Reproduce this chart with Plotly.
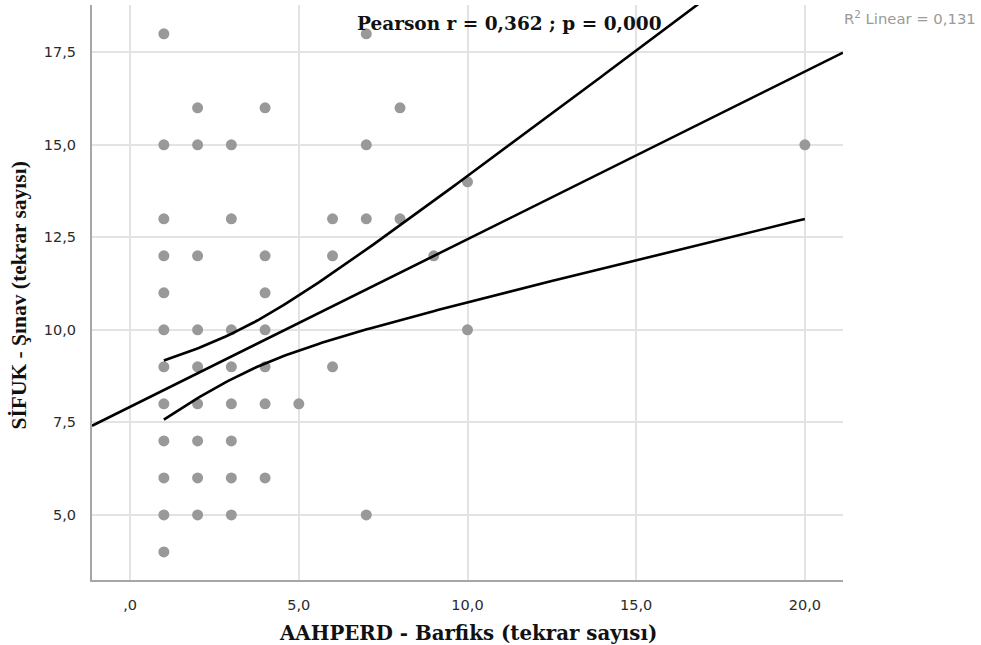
import numpy as np
import plotly.graph_objects as go

# ---- data ----
barfiks = [1]*12 + [2]*9 + [3]*8 + [4]*7 + [5] + [6]*3 + [7]*4 + [8]*2 + [9] + [10]*2 + [20]
sinav = ([18, 15, 13, 12, 11, 10, 9, 8, 7, 6, 5, 4] +
         [16, 15, 12, 10, 9, 8, 7, 6, 5] +
         [15, 13, 10, 9, 8, 7, 6, 5] +
         [16, 12, 11, 10, 9, 8, 6] +
         [8] +
         [13, 12, 9] +
         [18, 15, 13, 5] +
         [16, 13] +
         [12] +
         [14, 10] +
         [15])

# regression fit and confidence band parameters
fit_intercept = 7.92
fit_slope = 0.453
band_a = 0.374
band_b = 0.0549
band_xmean = 3.2
band_xmin, band_xmax = 1, 20

x_ticks = [0, 5, 10, 15, 20]
x_ticklabels = [",0", "5,0", "10,0", "15,0", "20,0"]
y_ticks = [5, 7.5, 10, 12.5, 15, 17.5]
y_ticklabels = ["5,0", "7,5", "10,0", "12,5", "15,0", "17,5"]

x_range = [-1.13, 21.13]
y_range = [3.24, 18.78]

fig = go.Figure()

fig.add_trace(go.Scatter(
    x=barfiks, y=sinav, mode="markers",
    marker=dict(color="#999999", size=11, line=dict(width=0)),
    showlegend=False, hoverinfo="x+y"))

# fit line across full axis
xf = np.array(x_range)
fig.add_trace(go.Scatter(
    x=xf, y=fit_intercept + fit_slope * xf, mode="lines",
    line=dict(color="black", width=2.6), showlegend=False))

# confidence band
xb = np.linspace(band_xmin, band_xmax, 200)
fitb = fit_intercept + fit_slope * xb
hw = np.sqrt(band_a + band_b * (xb - band_xmean) ** 2)
for yb in (fitb + hw, fitb - hw):
    fig.add_trace(go.Scatter(
        x=xb, y=yb, mode="lines",
        line=dict(color="black", width=2.6), showlegend=False))

tick_font = dict(family="DejaVu Sans", size=14.5, color="#2a2a2a")
serif = "DejaVu Serif"

fig.update_layout(
    width=981, height=645,
    margin=dict(l=92, r=138, t=5, b=65),
    paper_bgcolor="white", plot_bgcolor="white",
    xaxis=dict(range=x_range, tickvals=x_ticks, ticktext=x_ticklabels,
               showgrid=True, gridcolor="#e3e3e3", gridwidth=1.5,
               zeroline=False, showline=True, linecolor="#a6a6a6", linewidth=2,
               ticks="", tickfont=tick_font, ticklabelstandoff=11),
    yaxis=dict(range=y_range, tickvals=y_ticks, ticktext=y_ticklabels,
               showgrid=True, gridcolor="#e3e3e3", gridwidth=1.5,
               zeroline=False, showline=True, linecolor="#a6a6a6", linewidth=2,
               ticks="", tickfont=tick_font, ticklabelstandoff=11),
    annotations=[
        dict(text="<b>AAHPERD - Barfiks (tekrar sayısı)</b>", xref="paper", yref="paper",
             x=0.5, y=-0.093, xanchor="center", yanchor="middle", showarrow=False,
             font=dict(family=serif, size=19.8, color="#111111")),
        dict(text="<b>SİFUK - Şınav (tekrar sayısı)</b>", xref="paper", yref="paper",
             x=-0.097, y=0.495, xanchor="center", yanchor="middle", showarrow=False,
             textangle=-90,
             font=dict(family="Liberation Serif", size=21.5, color="#111111")),
        dict(text="<b>Pearson r = 0,362 ; p = 0,000</b>", xref="x", yref="paper",
             x=11.25, y=1 - 19 / 575, xanchor="center", yanchor="middle", showarrow=False,
             font=dict(family=serif, size=18.5, color="#111111")),
        dict(text="R<sup>2</sup> Linear = 0,131", xref="paper", yref="paper",
             x=1.0, y=1 - 12 / 575, xanchor="left", yanchor="middle", showarrow=False,
             xshift=-1,
             font=dict(family="DejaVu Sans", size=14.8, color="#9a9a9a")),
    ],
)

fig.write_html("out.html")
